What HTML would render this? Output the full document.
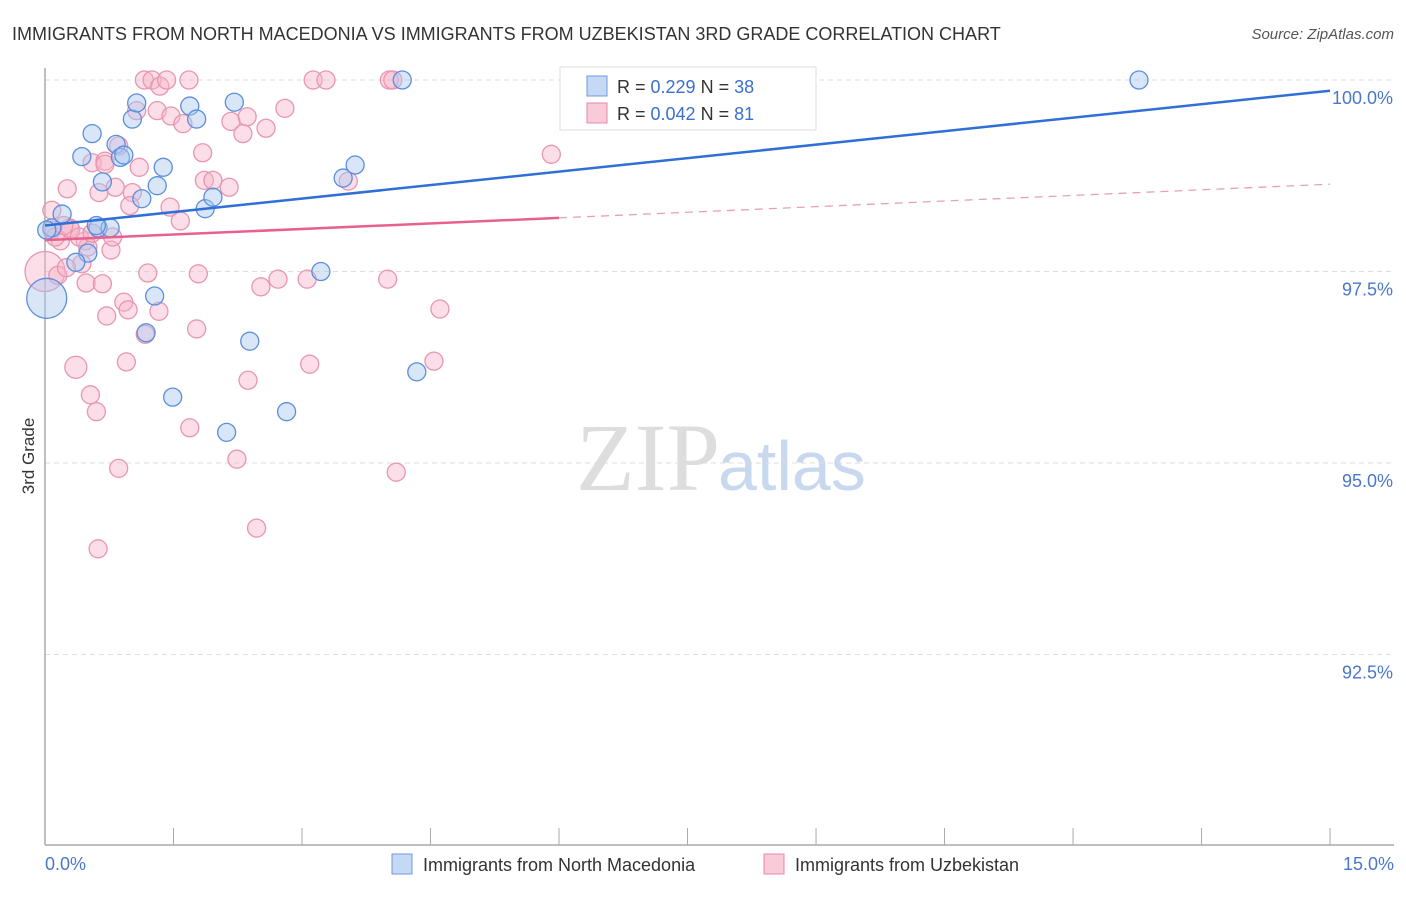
<!DOCTYPE html>
<html><head><meta charset="utf-8"><style>
body{margin:0;background:#fff;font-family:"Liberation Sans",sans-serif}
</style></head><body>
<svg width="1406" height="892" xmlns="http://www.w3.org/2000/svg" font-family="Liberation Sans, sans-serif">
<text x="12" y="40" font-size="18" fill="#333">IMMIGRANTS FROM NORTH MACEDONIA VS IMMIGRANTS FROM UZBEKISTAN 3RD GRADE CORRELATION CHART</text>
<text x="1394" y="39" font-size="15" fill="#555" text-anchor="end" font-style="italic">Source: ZipAtlas.com</text>
<text x="720" y="490" font-size="96" fill="#ddd" text-anchor="end" font-family="Liberation Serif, serif">ZIP</text>
<text x="718" y="490" font-size="70" fill="#c8d8ef">atlas</text>
<g id="grid"></g>
<g id="axes"></g>
<g id="pts"></g>
<g id="lines"></g>
<text transform="translate(34,456) rotate(-90)" font-size="17" fill="#333" text-anchor="middle">3rd Grade</text>
<text x="45" y="870" font-size="18" fill="#4a78c8">0.0%</text>
<text x="1394" y="870" font-size="18" fill="#4a78c8" text-anchor="end">15.0%</text>
<g>
<rect x="560" y="67" width="256" height="63" fill="#fff" stroke="#ddd"/>
<rect x="587" y="76" width="20" height="20" fill="#c5d9f5" stroke="#6c9be0"/>
<rect x="587" y="103" width="20" height="20" fill="#f9cbd8" stroke="#e88aa8"/>
<text x="617" y="93" font-size="18" fill="#333">R = <tspan fill="#3b6fd0">0.229</tspan>   N = <tspan fill="#3b6fd0">38</tspan></text>
<text x="617" y="120" font-size="18" fill="#333">R = <tspan fill="#3b6fd0">0.042</tspan>   N = <tspan fill="#3b6fd0">81</tspan></text>
</g>
<g>
<rect x="392" y="854" width="20" height="20" fill="#c5d9f5" stroke="#6c9be0"/>
<text x="423" y="871" font-size="18" fill="#333">Immigrants from North Macedonia</text>
<rect x="764" y="854" width="20" height="20" fill="#f9cbd8" stroke="#e88aa8"/>
<text x="795" y="871" font-size="18" fill="#333">Immigrants from Uzbekistan</text>
</g>
</svg>
<script>
const yTicks=[100,97.5,95,92.5];
const yTickLabels=["100.0%","97.5%","95.0%","92.5%"];
const blueX=[0.02,0.08,0.2,0.43,0.55,0.67,0.5,0.36,0.62,0.76,0.83,0.88,0.92,1.02,1.07,1.13,1.31,1.38,1.28,1.18,1.49,1.69,1.77,1.87,1.96,2.21,2.12,2.39,2.82,3.22,3.48,3.62,4.17,4.34,8.07,12.77,0.02,0.6];
const blueY=[97.15,98.07,98.25,99.0,99.3,98.67,97.74,97.62,98.07,98.07,99.16,98.99,99.02,99.49,99.7,98.45,98.62,98.86,97.18,96.7,95.86,99.66,99.49,98.32,98.47,99.71,95.4,96.59,95.67,97.5,98.72,98.89,100,96.19,100,100,98.04,98.1];
const blueR=[20,9,9,9,9,9,9,9,9,9,9,9,9,9,9,9,9,9,9,9,9,9,9,9,9,9,9,9,9,9,9,9,9,9,9,9,9,9];
const pinkX=[0,0.08,0.08,0.18,0.26,0.29,0.36,0.43,0.47,0.5,0.48,0.53,0.55,0.6,0.62,0.63,0.67,0.7,0.72,0.77,0.79,0.82,0.86,0.86,0.92,0.95,0.97,1.02,0.99,1.07,1.1,1.16,1.2,1.17,1.25,1.31,1.33,1.34,1.42,1.46,1.47,1.58,1.61,1.68,1.69,1.77,1.79,1.84,1.86,1.96,2.15,2.17,2.24,2.31,2.36,2.37,2.47,2.52,2.58,2.72,2.8,3.06,3.09,3.13,3.28,3.54,4.02,4.06,4.0,4.1,4.54,4.61,5.91,0.12,0.3,0.22,0.4,0.15,0.55,0.7,0.25];
const pinkY=[97.5,98.3,98.04,97.9,98.58,98.07,96.25,97.6,97.9,97.82,97.35,95.89,98.92,95.67,93.88,98.53,97.34,98.94,96.92,97.78,97.95,98.6,94.93,99.14,97.1,96.32,97.0,98.53,98.36,99.6,98.86,100,97.48,96.68,100,99.6,96.98,99.92,100,98.34,99.53,98.16,99.43,100,95.46,96.75,97.47,99.05,98.69,98.69,98.6,99.46,95.05,99.3,99.52,96.08,94.15,97.3,99.37,97.4,99.63,97.4,96.29,100,100,98.68,100,100,97.4,94.88,96.33,97.01,99.03,97.95,98.05,98.1,97.95,97.45,98.0,98.9,97.55];
const blueLine=[[0,98.1],[15,99.86]];
const pinkLineSolid=[[0,97.91],[6,98.2]];
const pinkLineDash=[[6,98.2],[15,98.64]];
const NS="http://www.w3.org/2000/svg";
const xs=v=>45+v*85.67, ys=v=>80+(100-v)*76.6;
function mk(t,a,p){const e=document.createElementNS(NS,t);for(const k in a)e.setAttribute(k,a[k]);document.getElementById(p).appendChild(e);return e;}
yTicks.forEach((t,i)=>{
 const l=mk('line',{x1:45,x2:1394,y1:ys(t),y2:ys(t),stroke:'#ddd','stroke-dasharray':'5,4'},'grid');
 
 
 const tx=mk('text',{x:1393,y:ys(t)+24,'font-size':18,fill:'#4a78c8','text-anchor':'end'},'grid');
 tx.textContent=yTickLabels[i];
 
 
});
const ax=mk('line',{x1:45,x2:45,y1:68,y2:845,stroke:'#aaa','stroke-width':1.5},'axes');


const bx=mk('line',{x1:45,x2:1394,y1:845,y2:845,stroke:'#aaa','stroke-width':1.5},'axes');


for(let i=0;i<=10;i++){const t=mk('line',{x1:xs(i*1.5),x2:xs(i*1.5),y1:828,y2:845,stroke:'#aaa'},'axes');
 
 }
pinkX.forEach((x,i)=>{const c=mk('circle',{cx:xs(x),cy:ys(pinkY[i]),r:i==0?20:(i==6?11:9),fill:'rgba(247,182,202,0.45)',stroke:'#e896b0','stroke-width':1.3},'pts');
 
 });
blueX.forEach((x,i)=>{const c=mk('circle',{cx:xs(x),cy:ys(blueY[i]),r:blueR[i],fill:'rgba(170,200,240,0.45)',stroke:'#5b8ede','stroke-width':1.3},'pts');
 
 });
function ln(p,st,w,d,n){const l=mk('line',{x1:xs(p[0][0]),y1:ys(p[0][1]),x2:xs(p[1][0]),y2:ys(p[1][1]),stroke:st,'stroke-width':w},'lines');if(d)l.setAttribute('stroke-dasharray',d);
 
 }
ln(blueLine,'#2f6fd6',2.5,null,'north-macedonia-trendline');
ln(pinkLineSolid,'#e8608e',2.5,null,'uzbekistan-trendline');
ln(pinkLineDash,'#e8a0b8',1.3,'8,6','uzbekistan-trendline-extension');
</script>
</body></html>
